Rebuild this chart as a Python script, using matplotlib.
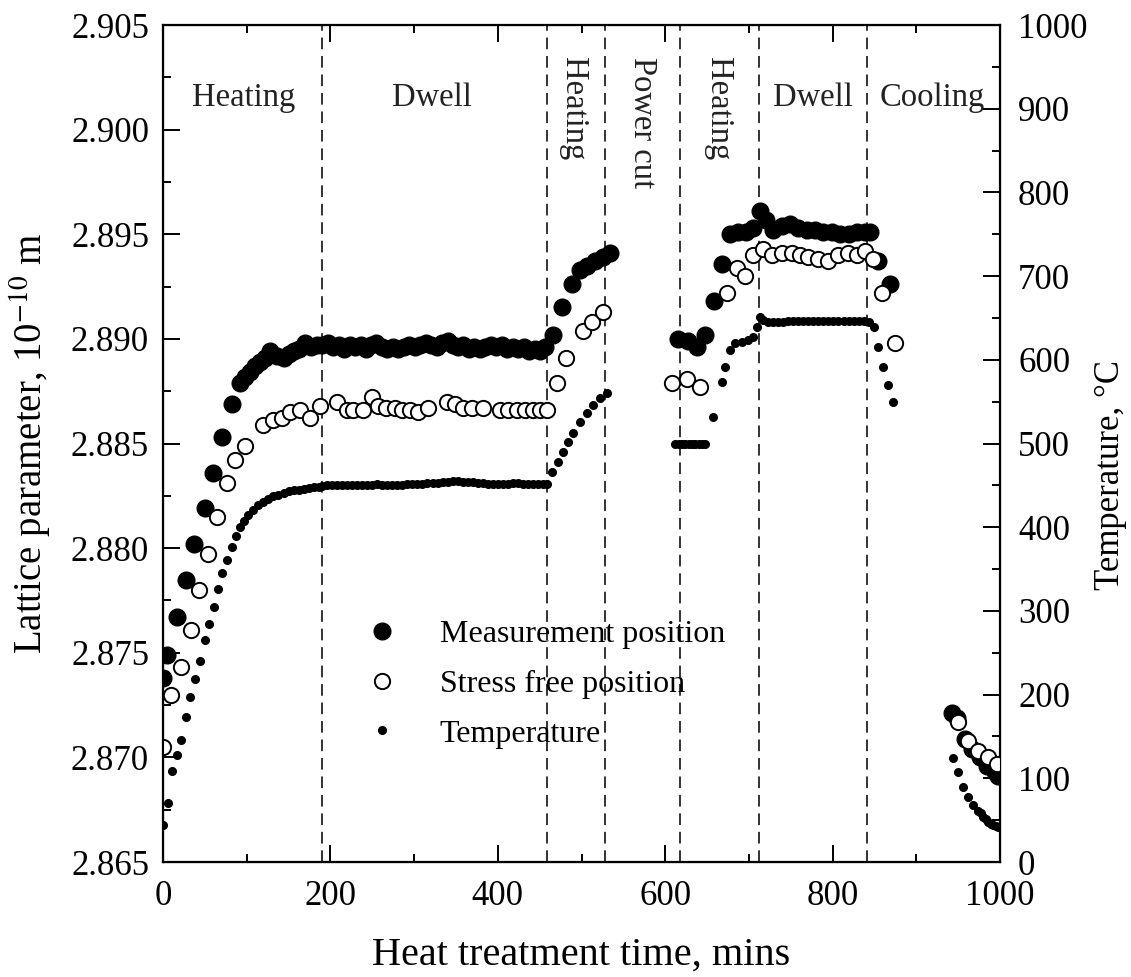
# Lattice parameter and temperature during heat treatment

import matplotlib
matplotlib.use('Agg')
import matplotlib.pyplot as plt
from matplotlib.ticker import MultipleLocator, FormatStrFormatter

plt.rcParams['font.family'] = ['Liberation Serif', 'DejaVu Serif']
plt.rcParams['mathtext.fontset'] = 'stix'

# Measurement position (filled circles), lattice parameter in 1e-10 m

meas_time = [0, 5, 17, 27, 37, 50, 60, 70, 82, 92, 98, 104, 110, 116, 122, 128, 136, 144, 150, 156,
             163, 170, 177, 184, 190, 197, 203, 210, 216, 223, 229, 236, 242, 249, 255, 262, 268, 275,
             281, 288, 294, 301, 307, 314, 320, 327, 333, 340, 346, 353, 359, 366, 372, 379, 385, 392,
             398, 405, 411, 418, 424, 431, 437, 444, 450, 456, 466, 477, 489, 498, 506, 516, 526, 534,
             615, 627, 638, 648, 658, 668, 677, 687, 697, 705, 713, 721, 729, 739, 749, 759, 769, 779,
             789, 799, 809, 819, 829, 839, 845, 854, 868, 943, 948, 958, 966, 976, 984, 994, 998]
meas_lat = [2.8738, 2.8749, 2.8767, 2.8785, 2.8802, 2.8819, 2.8836, 2.8853, 2.8869, 2.8879, 2.8882,
            2.8884, 2.8887, 2.8889, 2.8891, 2.8894, 2.8892, 2.8891, 2.8893, 2.8894, 2.8895, 2.8898,
            2.8896, 2.8897, 2.8897, 2.8898, 2.8896, 2.8897, 2.8895, 2.8897, 2.8896, 2.8897, 2.8895,
            2.8897, 2.8898, 2.8896, 2.8895, 2.8896, 2.8895, 2.8896, 2.8897, 2.8896, 2.8897, 2.8898,
            2.8897, 2.8896, 2.8898, 2.8899, 2.8897, 2.8896, 2.8897, 2.8895, 2.8896, 2.8895, 2.8896,
            2.8897, 2.8896, 2.8897, 2.8895, 2.8896, 2.8895, 2.8896, 2.8894, 2.8895, 2.8894, 2.8896,
            2.8902, 2.8915, 2.8926, 2.8933, 2.8935, 2.8937, 2.8939, 2.8941,
            2.8900, 2.8899, 2.8896, 2.8902, 2.8918, 2.8936, 2.8950, 2.8951, 2.8951, 2.8953, 2.8961,
            2.8957, 2.8952, 2.8954, 2.8955, 2.8953, 2.8952, 2.8952, 2.8951, 2.8951, 2.8950, 2.8950,
            2.8951, 2.8951, 2.8951, 2.8937, 2.8926,
            2.8721, 2.8719, 2.8709, 2.8704, 2.8700, 2.8696, 2.8693, 2.8691]

# Stress free position (open circles)

sf_time = [0, 10, 22, 33, 43, 54, 64, 76, 86, 98, 120, 131, 142, 152, 164, 176, 188, 208, 220, 227,
           239, 250, 257, 267, 277, 285, 295, 305, 317, 339, 349, 358, 369, 382, 403, 412, 423, 432,
           442, 451, 459, 471, 481, 502, 512, 526, 608, 626, 641, 674, 686, 695, 705, 717, 728, 739,
           751, 761, 771, 783, 795, 806, 818, 829, 839, 848, 859, 874, 950, 962, 974, 986, 996]
sf_lat = [2.8705, 2.8730, 2.8743, 2.8761, 2.8780, 2.8797, 2.8815, 2.8831, 2.8842, 2.8849, 2.8859,
          2.8861, 2.8862, 2.8865, 2.8866, 2.8862, 2.8868, 2.8870, 2.8866, 2.8866, 2.8866, 2.8872,
          2.8868, 2.8867, 2.8867, 2.8866, 2.8866, 2.8865, 2.8867, 2.8870, 2.8869, 2.8867, 2.8867,
          2.8867, 2.8866, 2.8866, 2.8866, 2.8866, 2.8866, 2.8866, 2.8866, 2.8879, 2.8891, 2.8904,
          2.8908, 2.8913, 2.8879, 2.8881, 2.8877, 2.8922, 2.8934, 2.8930, 2.8940, 2.8943, 2.8940,
          2.8941, 2.8941, 2.8940, 2.8939, 2.8938, 2.8937, 2.8940, 2.8941, 2.8940, 2.8942, 2.8938,
          2.8922, 2.8898, 2.8717, 2.8708, 2.8703, 2.8700, 2.8697]

# Temperature (small dots, right axis), deg C

temp_time = [0, 6, 11, 17, 22, 28, 32, 38, 44, 50, 55, 61, 66, 71, 77, 82, 87, 92, 97, 102, 108, 114,
             120, 126, 132, 138, 144, 150, 156, 162, 168, 174, 180, 186,
             190, 196, 202, 208, 214, 220, 226, 232, 238, 244, 250, 256, 262, 268, 274, 280, 286, 292,
             298, 304, 310, 316, 322, 328, 334, 340, 346, 352, 358, 364, 370, 376, 382, 388, 394, 400,
             406, 412, 418, 424, 430, 436, 442, 448, 454,
             459, 465, 472, 478, 484, 490, 498, 506, 514, 522, 530,
             612, 616, 620, 624, 628, 632, 636, 640, 644, 648,
             657, 668, 672, 677, 683, 692, 699, 705, 710, 713, 717,
             723, 729, 735, 741, 747, 753, 759, 765, 771, 777, 783, 789, 795, 801, 807, 813, 819, 825,
             831, 837, 843, 849, 854, 860, 866, 872,
             944, 950, 956, 962, 968, 974, 977, 980, 983, 986, 989, 992, 995, 998]
temp_val = [44, 70, 109, 128, 146, 173, 197, 219, 240, 265, 284, 305, 326, 345, 361, 376, 390, 400,
            408, 414, 421, 426, 430, 434, 437, 439, 441, 443, 444, 445, 446, 447, 448, 448,
            449, 450, 450, 450, 450, 451, 451, 451, 451, 451, 451, 452, 451, 451, 451, 451, 451, 452,
            452, 452, 452, 453, 453, 453, 454, 454, 455, 455, 454, 454, 454, 453, 453, 452, 452, 452,
            452, 452, 453, 453, 452, 452, 452, 452, 452,
            452, 466, 478, 490, 502, 512, 526, 536, 546, 554, 560,
            499, 500, 500, 499, 500, 500, 500, 500, 500, 500,
            532, 573, 591, 612, 620, 621, 624, 627, 639, 651, 648,
            645, 645, 645, 645, 646, 646, 646, 646, 646, 646, 646, 646, 646, 646, 646, 646, 646, 646,
            646, 646, 645, 639, 615, 591, 570, 550,
            124, 108, 90, 78, 68, 61, 58, 54, 51, 48, 46, 44, 43, 42]

# Stage boundaries and names

stage_bounds = [190, 459, 528, 618, 712, 841]
stage_names = ['Heating', 'Dwell', 'Heating', 'Power cut', 'Heating', 'Dwell', 'Cooling']
stage_x = [96, 321, 490, 572, 663, 777, 919]
stage_rot = [0, 0, 270, 270, 270, 0, 0]

fig = plt.figure(figsize = (11.31, 9.77), dpi = 100)
ax1 = fig.add_axes([0.1441, 0.1177, 0.7401, 0.8567])
ax2 = ax1.twinx()

for b in stage_bounds:
    ax1.axvline(b, color = '#333333', linewidth = 1.4, linestyle = (0, (6, 3.5)), zorder = 1)

for name, xs, rot in zip(stage_names, stage_x, stage_rot):
    if rot == 0:
        ax1.text(xs, 0.913, name, transform = ax1.get_xaxis_transform(), ha = 'center', va = 'center',
                 fontsize = 23.5, color = '#222222')
    else:
        ax1.text(xs, 0.962, name, transform = ax1.get_xaxis_transform(), ha = 'center', va = 'top',
                 rotation = rot, fontsize = 23.5, color = '#222222')

h1, = ax1.plot(meas_time, meas_lat, 'o', color = 'black', markersize = 12, linestyle = 'none',
               label = 'Measurement position', zorder = 3)
h2, = ax1.plot(sf_time, sf_lat, 'o', markerfacecolor = 'white', markeredgecolor = 'black',
               markeredgewidth = 1.4, markersize = 11, linestyle = 'none',
               label = 'Stress free position', zorder = 4)
h3, = ax2.plot(temp_time, temp_val, 'o', color = 'black', markersize = 5.5, linestyle = 'none',
               label = 'Temperature')

ax1.set_xlim(0, 1000)
ax1.set_ylim(2.865, 2.905)
ax2.set_ylim(0, 1000)

ax1.xaxis.set_major_locator(MultipleLocator(200))
ax1.xaxis.set_minor_locator(MultipleLocator(100))
ax1.yaxis.set_major_locator(MultipleLocator(0.005))
ax1.yaxis.set_minor_locator(MultipleLocator(0.0025))
ax1.yaxis.set_major_formatter(FormatStrFormatter('%.3f'))
ax2.yaxis.set_major_locator(MultipleLocator(100))
ax2.yaxis.set_minor_locator(MultipleLocator(50))

ax1.tick_params(which = 'both', direction = 'in', top = True, right = False, width = 1.4, labelsize = 25)
ax1.tick_params(which = 'major', length = 12)
ax1.tick_params(which = 'minor', length = 6)
ax1.tick_params(axis = 'y', pad = 10)
ax1.tick_params(axis = 'x', pad = 13)
ax2.tick_params(which = 'both', direction = 'in', width = 1.4, labelsize = 25, pad = 13)
ax2.tick_params(which = 'major', length = 12)
ax2.tick_params(which = 'minor', length = 6)

for sp in ax1.spines.values():
    sp.set_linewidth(1.6)

ax1.set_xlabel('Heat treatment time, mins', fontsize = 29)
ax1.xaxis.set_label_coords(0.5, -0.089)
ax1.set_ylabel('Lattice parameter, 10$^{-10}$ m', fontsize = 28)
ax1.yaxis.set_label_coords(-0.130, 0.5)
ax2.set_ylabel('Temperature, °C', fontsize = 25)
ax2.yaxis.set_label_coords(1.112, 0.462)

ax2.legend(handles = [h1, h2, h3], loc = 'center left', bbox_to_anchor = (0.2306, 0.2125),
           borderaxespad = 0, frameon = False, fontsize = 23, handlelength = 0.83,
           handletextpad = 1.39, labelspacing = 0.64)

fig.savefig('out.png', dpi = 100)
